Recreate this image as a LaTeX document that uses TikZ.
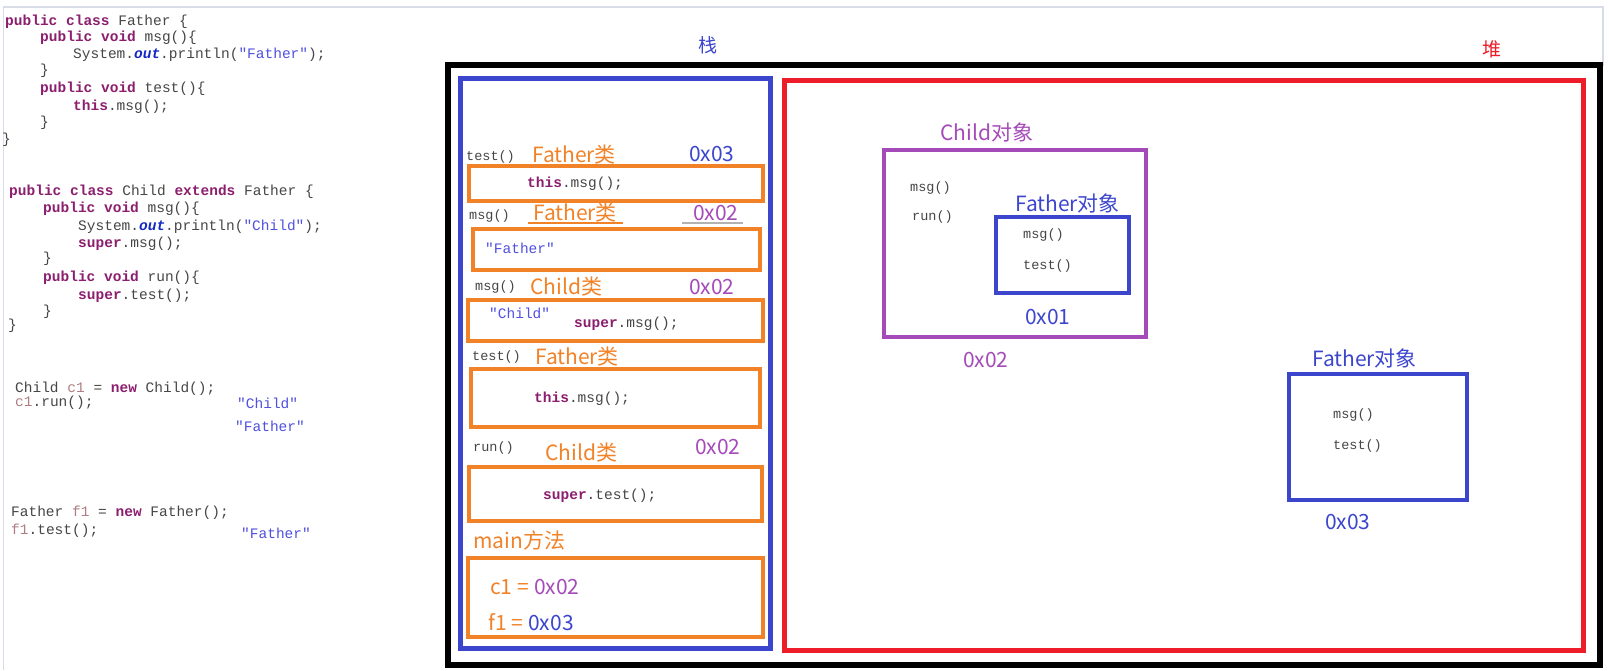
\documentclass[tikz,border=0pt]{standalone}
\usepackage{fontspec}
\usepackage{tikz}
\newfontfamily\cjk{Noto Sans CJK SC}
\newfontfamily\codefam{Liberation Mono}
\definecolor{kwcol}{RGB}{140,30,110}
\definecolor{strcol}{RGB}{80,80,225}
\definecolor{outcol}{RGB}{20,40,200}
\definecolor{codegray}{RGB}{70,70,70}
\definecolor{varcol}{RGB}{175,125,130}
\definecolor{stackorange}{RGB}{242,130,40}
\definecolor{stackblue}{RGB}{60,70,205}
\definecolor{heapred}{RGB}{236,28,40}
\definecolor{objpurple}{RGB}{165,75,185}
\definecolor{wingray}{RGB}{215,220,230}
\newcommand\codefont{\codefam\fontsize{14.5}{16}\selectfont}
\newcommand\smallcode{\codefam\fontsize{13.5}{16}\selectfont}
\newcommand\kw[1]{\textcolor{kwcol}{\textbf{#1}}}
\newcommand\jstr[1]{\textcolor{strcol}{#1}}
\newcommand\jout{\textcolor{outcol}{\textbf{\textit{out}}}}
\tikzset{
  code/.style={anchor=west, inner sep=0pt, font=\codefont, text=codegray},
  mcode/.style={anchor=west, inner sep=0pt, font=\smallcode, text=codegray},
  lbl/.style={anchor=west, inner sep=0pt, font=\cjk\fontsize{21}{24}\selectfont},
  framebox/.style={line width=5pt},
  stackframe/.style={line width=4pt, stackorange},
  objbox/.style={line width=4pt}
}
\begin{document}
\begin{tikzpicture}[x=1pt,y=-1pt]
  \fill[white] (0,0) rectangle (1609,670);
  \useasboundingbox (0,0) rectangle (1609,670);
  \draw[wingray, line width=1.5pt] (3.5,670) -- (3.5,7) -- (1603,7) -- (1603,66);

  \node[code] (fhead) at (5,22) {\kw{public} \kw{class} Father \{};
  \node[code] (fmsg) at (40,38) {\kw{public} \kw{void} msg()\{};
  \node[code] (fprint) at (73,55) {System.\jout.println(\jstr{"Father"});};
  \node[code] (fmsgend) at (40,71) {\}};
  \node[code] (ftest) at (40,89) {\kw{public} \kw{void} test()\{};
  \node[code] (fthis) at (73,107) {\kw{this}.msg();};
  \node[code] (ftestend) at (40,123) {\}};
  \node[code] (fend) at (2,140) {\}};

  \node[code] (chead) at (9,192) {\kw{public} \kw{class} Child \kw{extends} Father \{};
  \node[code] (cmsg) at (43,209) {\kw{public} \kw{void} msg()\{};
  \node[code] (cprint) at (78,227) {System.\jout.println(\jstr{"Child"});};
  \node[code] (csuper) at (78,244) {\kw{super}.msg();};
  \node[code] (cmsgend) at (43,259) {\}};
  \node[code] (crun) at (43,278) {\kw{public} \kw{void} run()\{};
  \node[code] (csupert) at (78,296) {\kw{super}.test();};
  \node[code] (crunend) at (43,312) {\}};
  \node[code] (cend) at (8,326) {\}};

  \node[code] (mainc) at (15,389) {Child \textcolor{varcol}{c1} = \kw{new} Child();};
  \node[code] (mainrun) at (15,403) {\textcolor{varcol}{c1}.run();};
  \node[code] (outc1) at (237,403) {\jstr{"Child"}};
  \node[code] (outf1) at (235,426) {\jstr{"Father"}};
  \node[code] (mainf) at (11,513) {Father \textcolor{varcol}{f1} = \kw{new} Father();};
  \node[code] (maintest) at (11,531) {\textcolor{varcol}{f1}.test();};
  \node[code] (outf2) at (241,533) {\jstr{"Father"}};

  \draw[line width=6pt] (448,65) rectangle (1600,665);
  \draw[framebox, stackblue] (460,78) rectangle (770,648);
  \draw[framebox, heapred] (784,80) rectangle (1583,650);
  \node[font=\cjk\fontsize{19}{22}\selectfont, text=stackblue] (stacklbl) at (708,45) {栈};
  \node[font=\cjk\fontsize{19}{22}\selectfont, text=heapred] (heaplbl) at (1492,49) {堆};

  \node[mcode] (s1name) at (466,157) {test()};
  \node[lbl, text=stackorange] (s1cls) at (532,155) {Father类};
  \node[lbl, text=stackblue] (s1addr) at (689,154) {0x03};
  \draw[stackframe] (469,166) rectangle (763,201);
  \node[code] (s1body) at (527,184) {\kw{this}.msg();};

  \node[mcode] (s2name) at (469,216) {msg()};
  \node[lbl, text=stackorange] (s2cls) at (533,213) {Father类};
  \node[lbl, text=objpurple] (s2addr) at (693,213) {0x02};
  \draw[stackorange, line width=2pt] (528,223) -- (623,223);
  \draw[gray!60, line width=1.5pt] (682,223) -- (743,223);
  \draw[stackframe] (473,229) rectangle (760,270);
  \node[code] (s2body) at (485,248) {\jstr{"Father"}};

  \node[mcode] (s3name) at (475,287) {msg()};
  \node[lbl, text=stackorange] (s3cls) at (530,287) {Child类};
  \node[lbl, text=objpurple] (s3addr) at (689,287) {0x02};
  \draw[stackframe] (468,300) rectangle (763,341);
  \node[code] (s3str) at (489,313) {\jstr{"Child"}};
  \node[code] (s3body) at (574,324) {\kw{super}.msg();};

  \node[mcode] (s4name) at (472,357) {test()};
  \node[lbl, text=stackorange] (s4cls) at (535,357) {Father类};
  \draw[stackframe] (471,369) rectangle (760,427);
  \node[code] (s4body) at (534,399) {\kw{this}.msg();};

  \node[mcode] (s5name) at (473,448) {run()};
  \node[lbl, text=stackorange] (s5cls) at (545,453) {Child类};
  \node[lbl, text=objpurple] (s5addr) at (695,447) {0x02};
  \draw[stackframe] (469,467) rectangle (762,521);
  \node[code] (s5body) at (543,496) {\kw{super}.test();};

  \node[lbl, text=stackorange] (mainlbl) at (473,540) {main方法};
  \draw[stackframe] (468,558) rectangle (763,637);
  \node[lbl, text=stackorange] (c1var) at (490,587) {c1\hspace{5pt}=\hspace{5pt}\textcolor{objpurple}{0x02}};
  \node[lbl, text=stackorange] (f1var) at (488,622) {f1\hspace{5pt}=\hspace{5pt}\textcolor{stackblue}{0x03}};

  \node[lbl, text=objpurple] (childobj) at (940,132) {Child对象};
  \draw[objbox, objpurple] (884,150) rectangle (1146,337);
  \node[mcode] (cobjmsg) at (910,188) {msg()};
  \node[mcode] (cobjrun) at (912,217) {run()};
  \node[lbl, text=stackblue] (superobj) at (1015,203) {Father对象};
  \draw[objbox, stackblue] (996,217) rectangle (1129,293);
  \node[mcode] (sobjmsg) at (1023,235) {msg()};
  \node[mcode] (sobjtest) at (1023,266) {test()};
  \node[lbl, text=stackblue] (superaddr) at (1025,317) {0x01};
  \node[lbl, text=objpurple] (childaddr) at (963,360) {0x02};

  \node[lbl, text=stackblue] (fatherobj) at (1312,358) {Father对象};
  \draw[objbox, stackblue] (1289,374) rectangle (1467,500);
  \node[mcode] (fobjmsg) at (1333,415) {msg()};
  \node[mcode] (fobjtest) at (1333,446) {test()};
  \node[lbl, text=stackblue] (fatheraddr) at (1325,522) {0x03};
\end{tikzpicture}
\end{document}
